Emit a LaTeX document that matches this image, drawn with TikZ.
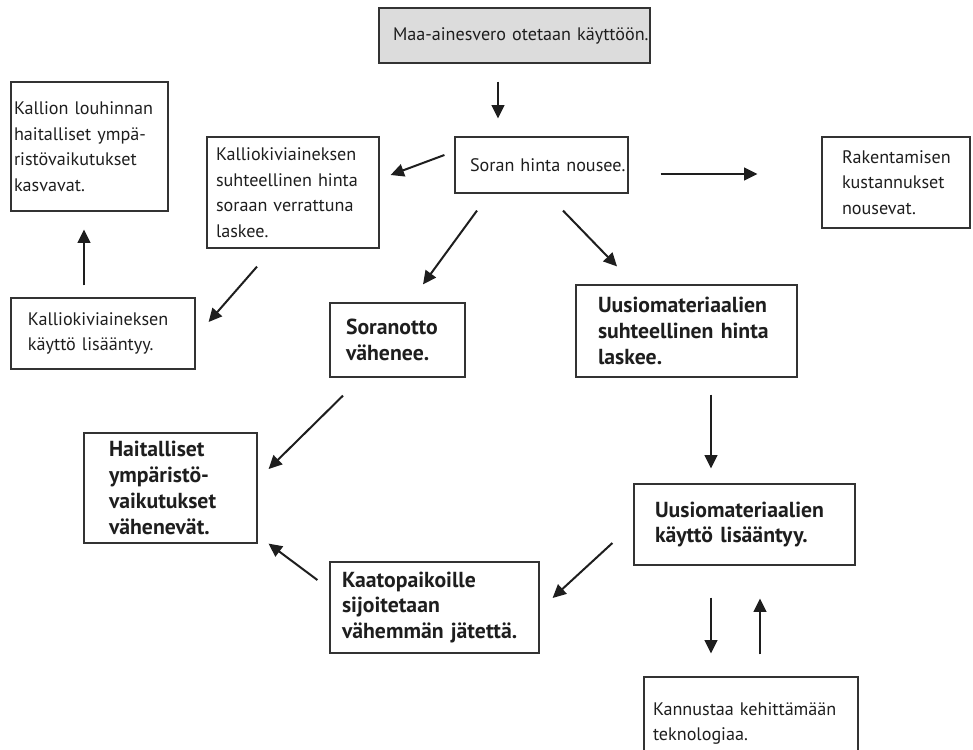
\documentclass[tikz,border=0pt]{standalone}
\usepackage{fontspec}
\setmainfont{PT Sans}
\usetikzlibrary{arrows.meta,calc}
\definecolor{edge}{HTML}{333333}
\definecolor{ink}{HTML}{1E1E1E}
\definecolor{greyfill}{HTML}{DCDCDC}
\begin{document}
\begin{tikzpicture}[x=0.75pt,y=-0.75pt,
  box/.style={draw=edge,line width=0.9pt,text=ink,align=left,
    font=\fontsize{13.6}{19.2}\selectfont,inner xsep=0pt,inner ysep=0pt,
    text width=#1},
  bbox/.style={box=#1,font=\fontsize{16.3}{19.4}\selectfont\bfseries},
  % left indent of the text; lines may run a little past the right margin
  pad/.style={execute at begin node={\setlength\leftskip{#1}\setlength\rightskip{-12pt plus 1fil}}},
  arr/.style={draw=ink,line width=1.5pt,-{Triangle[length=10pt,width=9.5pt]}}]
\useasboundingbox (0,0) rectangle (973,749);

% boxes
\node[box=203.25pt,pad=10.5pt,fill=greyfill,minimum height=41.25pt] (maa) at (514.5,35.5) {Maa-ainesvero otetaan käyttöön.};
\node[box=129.75pt,pad=11.25pt,minimum height=42pt] (soran) at (541.5,165) {Soran hinta nousee.};
\node[box=111pt,pad=15pt,minimum height=68.25pt] (rak) at (896,182.5) {Rakentamisen\\kustannukset\\nousevat.};
\node[box=117.75pt,pad=2.25pt,minimum height=96.75pt] (kallion) at (89.5,146.5) {Kallion louhinnan\\haitalliset ympä-\\ristövaikutukset\\kasvavat.};
\node[box=129pt,pad=6.75pt,minimum height=83.25pt] (ksuht) at (293,192.5) {Kalliokiviaineksen\\suhteellinen hinta\\soraan verrattuna\\laskee.};
\node[box=138pt,pad=12.75pt,minimum height=53.25pt] (kkaytto) at (103,333.5) {Kalliokiviaineksen\\käyttö lisääntyy.};
\node[bbox=101.25pt,pad=12pt,minimum height=55.5pt] (soranotto) at (397.5,340) {Soranotto\\vähenee.};
\node[bbox=165.75pt,pad=16.5pt,minimum height=69pt] (usuht) at (686.5,331) {Uusiomateriaalien\\suhteellinen hinta\\laskee.};
\node[bbox=129.75pt,pad=18.75pt,minimum height=82.5pt] (hait) at (170.5,488) {Haitalliset\\ympäristö-\\vaikutukset\\vähenevät.};
\node[bbox=165.75pt,pad=15.75pt,minimum height=60.75pt] (ukaytto) at (744.5,524.5) {Uusiomateriaalien\\käyttö lisääntyy.};
\node[bbox=156.75pt,pad=9pt,minimum height=68.25pt] (kaato) at (434.5,607.5) {Kaatopaikoille\\sijoitetaan\\vähemmän jätettä.};
\node[box=160.5pt,pad=6.75pt,minimum height=69.75pt] (kann) at (751,723.5) {Kannustaa kehittämään\\teknologiaa.\\[19.2pt]};

% connectors
\draw[arr] ($(maa.south)+(-16.5,18)$) -- ($(soran.north)+(-43.5,-18)$);
\draw[arr] ($(soran.west)+(-10,-10)$) -- ($(ksuht.east)+(11,-17.5)$);
\draw[arr] ($(soran.east)+(32,9)$) -- ($(rak.west)+(-64,-8.5)$);
\draw[arr] ($(soran.south)+(-64.5,17)$) -- ($(soranotto.north)+(25.5,-18)$);
\draw[arr] ($(soran.south)+(21.5,17)$) -- ($(usuht.north)+(-69.5,-18)$);
\draw[arr] ($(ksuht.south)+(-36,18)$) -- ($(kkaytto.east)+(13,-11.5)$);
\draw[arr] ($(kkaytto.north)+(-19,-12)$) -- ($(kallion.south)+(-5.5,18)$);
\draw[arr] ($(soranotto.south)+(-54.5,18)$) -- ($(hait.east)+(11,-19)$);
\draw[arr] ($(kaato.west)+(-12,-27.5)$) -- ($(hait.south east)+(11,0)$);
\draw[arr] ($(ukaytto.west)+(-21,18.5)$) -- ($(kaato.east)+(13,-9.5)$);
\draw[arr] ($(usuht.south)+(24.5,17)$) -- ($(ukaytto.north)+(-33.5,-15)$);
\draw[arr] ($(ukaytto.south)+(-33.5,32)$) -- ($(kann.north)+(-40,-23)$);
\draw[arr] ($(kann.north)+(9,-22)$) -- ($(ukaytto.south)+(15.5,33)$);
\end{tikzpicture}
\end{document}
